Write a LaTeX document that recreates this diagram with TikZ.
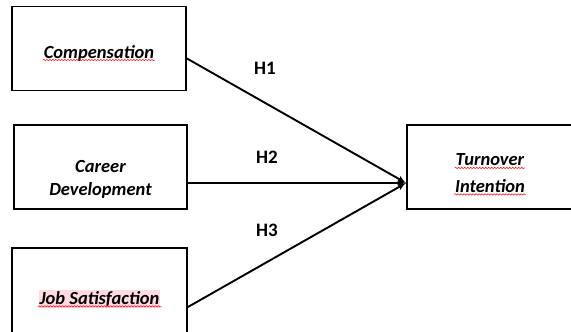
\documentclass[tikz,border=0pt]{standalone}
\usepackage{fontspec}
\setmainfont{Carlito}
\usetikzlibrary{arrows, positioning, calc, decorations.pathmorphing}

\begin{document}
\begin{tikzpicture}[x=1pt,y=1pt,line width=1.9pt,>=latex',
  box/.style={draw,rectangle,inner sep=0pt},
  lbl/.style={font=\fontsize{18.5}{23}\selectfont\bfseries\itshape,inner sep=0pt},
  hyp/.style={font=\fontsize{19}{22}\selectfont\bfseries,inner sep=0pt},
  squig/.style={red,line width=.5pt,decorate,decoration={snake,amplitude=.7pt,segment length=3pt}}]
\useasboundingbox (0,0) rectangle (571,332);
\clip (0,0) rectangle (571,332);
% boxes
\node [box,minimum width=174pt,minimum height=84pt] (comp)     at (99,283.5)  {};
\node [box,minimum width=173pt,minimum height=84pt] (career)   at (100.5,165) {};
\node [box,minimum width=175pt,minimum height=96pt] (jobsat)   at (99.5,36)   {};
\node [box,minimum width=166pt,minimum height=84pt] (turnover) at (490,165)   {};
% texts
\node [lbl] (compText) at ([yshift=-4.5pt]comp.center) {Compensation};
\node [lbl,align=center] (careerText) at ([yshift=-12pt]career.center) {Career\\Development};
\node [lbl,fill={rgb,255:red,255;green,218;blue,224},inner sep=1pt] (jobsatText) at ([yshift=-3pt]jobsat.center) {Job Satisfaction};
\node [lbl] (turnTop) at ([yshift=7pt]turnover.center) {Turnover};
\node [lbl] (turnBot) at ([yshift=-19pt]turnover.center) {Intention};
\draw [squig] ([yshift=-2pt]compText.base west) -- ([yshift=-2pt]compText.base east);
\draw [squig] ([yshift=-2pt]jobsatText.base west) -- ([yshift=-2pt]jobsatText.base east);
\draw [squig] ([yshift=-2pt]turnTop.base west) -- ([yshift=-2pt]turnTop.base east);
\draw [squig] ([yshift=-2pt]turnBot.base west) -- ([yshift=-2pt]turnBot.base east);
% paths
\coordinate (tip) at ([yshift=-16pt]turnover.west);
\draw [->] ([yshift=-10pt]comp.east) -- (tip);
\draw [->] ([yshift=-16pt]career.east) -- (tip);
\draw [->] ([yshift=-11pt]jobsat.east) -- (tip);
\node [hyp] (h1) at (265,264) {H1};
\node [hyp] (h2) at (267,175) {H2};
\node [hyp] (h3) at (267,102) {H3};
\end{tikzpicture}
\end{document}
